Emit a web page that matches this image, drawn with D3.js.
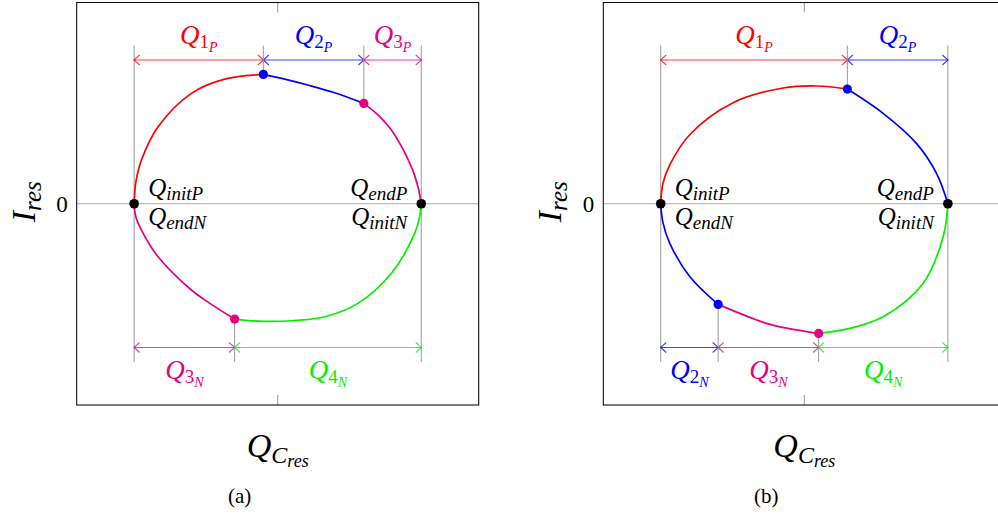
<!DOCTYPE html>
<html>
<head>
<meta charset="utf-8">
<script src="https://cdn.jsdelivr.net/npm/d3@7"></script>
<style>
  body { margin: 0; background: #fff; }
</style>
</head>
<body>
<div id="chart"></div>
<script>
// (Q, I) points of the trajectory, upper half and lower half, left to right
var upperA = [[-1, 0], [-0.988, 0.15], [-0.949, 0.304], [-0.833, 0.536], [-0.601, 0.768], [-0.369, 0.867], [-0.1, 0.9],
  [0.049, 0.867], [0.209, 0.826], [0.397, 0.772], [0.6, 0.698],
  [0.699, 0.617], [0.792, 0.513], [0.931, 0.257], [0.977, 0.118], [1, 0]];
var lowerA = [[-1, 0], [-0.988, -0.09], [-0.949, -0.183], [-0.833, -0.369], [-0.601, -0.6], [-0.462, -0.7], [-0.3, -0.802],
  [-0.137, -0.816], [0.095, -0.814], [0.327, -0.786], [0.559, -0.693], [0.792, -0.484], [0.954, -0.206], [0.989, -0.09], [1, 0]];
var upperB = [[-1, 0], [-0.985, 0.14], [-0.937, 0.27], [-0.797, 0.482], [-0.496, 0.703], [-0.148, 0.805], [0.085, 0.819], [0.3, 0.798],
  [0.549, 0.629], [0.781, 0.42], [0.921, 0.211], [1, 0]];
var lowerB = [[-1, 0], [-0.985, -0.13], [-0.937, -0.275], [-0.797, -0.508], [-0.6, -0.7],
  [-0.263, -0.832], [-0.078, -0.874], [0.1, -0.902],
  [0.317, -0.867], [0.549, -0.786], [0.827, -0.554], [0.967, -0.23], [1, 0]];

// intervals along Q, positive half (P) and negative half (N)
var posA = [{ n: '1', from: -1, to: -0.1 }, { n: '2', from: -0.1, to: 0.6 }, { n: '3', from: 0.6, to: 1 }];
var negA = [{ n: '3', from: -1, to: -0.3 }, { n: '4', from: -0.3, to: 1 }];
var posB = [{ n: '1', from: -1, to: 0.3 }, { n: '2', from: 0.3, to: 1 }];
var negB = [{ n: '2', from: -1, to: -0.6 }, { n: '3', from: -0.6, to: 0.1 }, { n: '4', from: 0.1, to: 1 }];

var captions = ['(a)', '(b)'];

var color = d3.scaleOrdinal()
  .domain(['1', '2', '3', '4'])
  .range(['#ff0000', '#0000ff', '#e6007e', '#00f000'])

var svg = d3.select('#chart').append('svg')
  .attr('width', 998)
  .attr('height', 515);

function arrowHead(g, px, py, dir, c) {
  // open "to" style tip, dir = +1 points right
  g.append('path')
    .attr('d', 'M' + (px - dir * 5.5) + ',' + (py - 5) + ' Q' + (px - dir * 1.5) + ',' + (py - 1.5) + ' ' + px + ',' + py +
      ' Q' + (px - dir * 1.5) + ',' + (py + 1.5) + ' ' + (px - dir * 5.5) + ',' + (py + 5))
    .attr('fill', 'none')
    .attr('stroke', c)
    .attr('stroke-opacity', 0.75)
    .attr('stroke-width', 1.1);
}

function drawPanel(left, upper, lower, pos, neg, caption) {
  var w = 402;
  var x = d3.scaleLinear().domain([-1.4, 1.4]).range([left, left + w]);
  var y = d3.scaleLinear().domain([-1.4, 1.4]).range([405, 2.5]);
  var g = svg.append('g');

  // zero line and ticks
  g.append('line')
    .attr('x1', x(-1.4)).attr('x2', x(1.4))
    .attr('y1', y(0)).attr('y2', y(0))
    .attr('stroke', '#aaa').attr('stroke-width', 1.2);
  [y(1.4), y(-1.4)].forEach(function (yy, i) {
    g.append('line')
      .attr('x1', x(0)).attr('x2', x(0))
      .attr('y1', yy).attr('y2', i == 0 ? yy + 10 : yy - 10)
      .attr('stroke', '#999').attr('stroke-width', 1);
  });

  // guides at the end points
  [-1, 1].forEach(function (q) {
    g.append('line')
      .attr('x1', x(q)).attr('x2', x(q))
      .attr('y1', y(1.1)).attr('y2', y(-1.1))
      .attr('stroke', '#999').attr('stroke-width', 1);
  });

  var line = d3.line()
    .x(function (d) { return x(d[0]) })
    .y(function (d) { return y(d[1]) })
    .curve(d3.curveCatmullRom.alpha(0.5));

  function drawSide(pts, segs, isPos) {
    var ay = isPos ? y(1) : y(-1);

    segs.forEach(function (s) {
      var c = color(s.n);
      var part = pts.filter(function (d) { return d[0] >= s.from - 1e-9 && d[0] <= s.to + 1e-9 });
      g.append('path')
        .attr('d', line(part))
        .attr('fill', 'none')
        .attr('stroke', c)
        .attr('stroke-width', 1.7);

      g.append('line')
        .attr('x1', x(s.from)).attr('x2', x(s.to))
        .attr('y1', ay).attr('y2', ay)
        .attr('stroke', c).attr('stroke-opacity', 0.75).attr('stroke-width', 1.1);
      arrowHead(g, x(s.from), ay, -1, c);
      arrowHead(g, x(s.to), ay, 1, c);

      var t = g.append('text')
        .attr('x', (x(s.from) + x(s.to)) / 2)
        .attr('y', isPos ? ay - 16 : ay + 31)
        .attr('text-anchor', 'middle')
        .attr('fill', c)
        .attr('font-size', 27);
      t.append('tspan').attr('font-style', 'italic').text('Q');
      t.append('tspan').attr('font-size', 19).attr('dy', 4).text(s.n);
      t.append('tspan').attr('font-style', 'italic').attr('font-size', 14).attr('dy', 4).text(isPos ? 'P' : 'N');
    });

    // mode change points
    segs.forEach(function (s, i) {
      if (i == 0) return;
      var p = pts.find(function (d) { return Math.abs(d[0] - s.from) < 1e-9 });
      g.append('line')
        .attr('x1', x(p[0])).attr('x2', x(p[0]))
        .attr('y1', y(p[1])).attr('y2', isPos ? y(1.1) : y(-1.1))
        .attr('stroke', '#999').attr('stroke-width', 1);
      g.append('circle')
        .attr('cx', x(p[0])).attr('cy', y(p[1])).attr('r', 4.6)
        .attr('fill', color(isPos ? s.n : segs[i - 1].n));
    });
  }

  drawSide(upper, pos, true);
  drawSide(lower, neg, false);

  // end points
  [-1, 1].forEach(function (q) {
    g.append('circle').attr('cx', x(q)).attr('cy', y(0)).attr('r', 4.8).attr('fill', '#000');
  });

  function pointLabel(px, py, anchor, sub) {
    var t = g.append('text')
      .attr('x', px).attr('y', py)
      .attr('text-anchor', anchor)
      .attr('font-size', 25)
      .attr('font-style', 'italic');
    t.append('tspan').text('Q');
    t.append('tspan').attr('font-size', 19).attr('dy', 4).text(sub);
  }
  pointLabel(x(-1) + 14, y(0) - 8, 'start', 'initP');
  pointLabel(x(-1) + 14, y(0) + 21, 'start', 'endN');
  pointLabel(x(1) - 14, y(0) - 8, 'end', 'endP');
  pointLabel(x(1) - 14, y(0) + 21, 'end', 'initN');

  // frame
  g.append('rect')
    .attr('x', x(-1.4)).attr('y', y(1.4))
    .attr('width', w).attr('height', y(-1.4) - y(1.4))
    .attr('fill', 'none').attr('stroke', '#111').attr('stroke-width', 1.1);

  // axis texts
  g.append('text')
    .attr('x', x(-1.4) - 9).attr('y', y(0) + 8)
    .attr('text-anchor', 'end')
    .attr('font-size', 23)
    .text('0');

  var xl = g.append('text')
    .attr('x', x(0)).attr('y', 457)
    .attr('text-anchor', 'middle')
    .attr('font-size', 34)
    .attr('font-style', 'italic');
  xl.append('tspan').text('Q');
  xl.append('tspan').attr('font-size', 24).attr('dy', 6).text('C');
  xl.append('tspan').attr('font-size', 18).attr('dy', 4).text('res');

  var yl = g.append('text')
    .attr('transform', 'translate(' + (x(-1.4) - 42) + ',' + (y(0) - 2) + ') rotate(-90)')
    .attr('text-anchor', 'middle')
    .attr('font-size', 34)
    .attr('font-style', 'italic');
  yl.append('tspan').text('I');
  yl.append('tspan').attr('font-size', 25).attr('dy', 6).text('res');

  g.append('text')
    .attr('x', x(0) - 38).attr('y', 503)
    .attr('text-anchor', 'middle')
    .attr('font-size', 21)
    .text(caption);
}

drawPanel(76.7, upperA, lowerA, posA, negA, captions[0]);
drawPanel(603.3, upperB, lowerB, posB, negB, captions[1]);

// serif face on every text and tspan
svg.selectAll('text, tspan').style('font-family', "'Liberation Serif'");
</script>
</body>
</html>
